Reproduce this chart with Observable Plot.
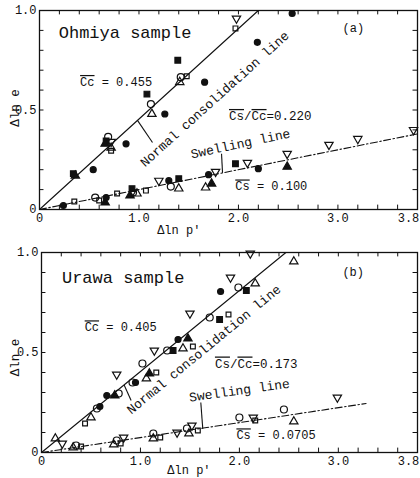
<!DOCTYPE html>
<html><head><meta charset="utf-8">
<script src="https://cdn.jsdelivr.net/npm/d3@7"></script>
<script src="https://cdn.jsdelivr.net/npm/@observablehq/plot@0.6"></script>
<style>
body{margin:0;background:#fff;}
#chart{width:420px;height:478px;overflow:hidden;}
svg{display:block;}
</style></head><body><div id="chart"></div>
<script>
// ---- tick labels ----
const xTickValues = [0, 1, 2, 3];
const xTickLabels = ["0", "1.0", "2.0", "3.0"];
const xEndValue = [3.8];
const xEndLabel = ["3.8"];
const yTickValues = [0, 0.5, 1];
const yTickLabels = ["0", "0.5", "1.0"];

// ---- (a) Ohmiya sample : [Δln p', Δln e] ----
const ohmiyaFilledCircle = [[0.54,0.20],[0.87,0.33],[1.26,0.48],[1.66,0.64],[2.19,0.84],[2.54,0.985],
  [0.24,0.02],[0.67,0.06],[1.30,0.145],[1.70,0.175],[2.20,0.205]];
const ohmiyaOpenCircle = [[0.69,0.365],[1.12,0.53],[1.42,0.665],[0.56,0.06],[0.94,0.085],[1.32,0.115]];
const ohmiyaFilledSquare = [[0.34,0.18],[0.67,0.345],[1.08,0.58],[1.39,0.75],[0.93,0.105],[1.40,0.155],[1.97,0.23]];
const ohmiyaOpenSquare = [[0.72,0.295],[1.48,0.67],[1.97,0.91],[0.35,0.04],[0.60,0.045],[0.78,0.08],[1.07,0.095]];
const ohmiyaFilledTriangle = [[0.36,0.17],[0.66,0.33],[0.66,0.035],[0.91,0.07],[1.73,0.13],[2.49,0.215]];
const ohmiyaOpenTriangle = [[0.72,0.31],[1.13,0.48],[1.41,0.64],[0.98,0.08],[1.40,0.105],[1.67,0.11]];
const ohmiyaInvTriangle = [[0.72,0.34],[1.98,0.96],[1.20,0.145],[1.77,0.19],[2.09,0.235],[2.49,0.28],[2.91,0.325],[3.20,0.355],[3.76,0.40]];
const ohmiyaNCL = [[0,0],[2.2,1.0]];
const ohmiyaSwell = [[0,0],[3.8,0.38]];

// ---- (b) Urawa sample ----
const urawaFilledCircle = [[0.59,0.23],[0.66,0.285],[0.95,0.35],[1.38,0.565],[1.81,0.805]];
const urawaOpenCircle = [[0.56,0.22],[0.78,0.295],[0.92,0.35],[1.02,0.445],[1.27,0.51],[1.70,0.675],[1.99,0.825],
  [0.35,0.035],[0.76,0.06],[1.13,0.095],[1.47,0.12],[2.00,0.175],[2.45,0.215]];
const urawaFilledSquare = [[1.33,0.51],[1.80,0.665],[2.07,0.81]];
const urawaOpenSquare = [[0.44,0.145],[1.16,0.40],[1.53,0.53],[1.89,0.69],[0.40,0.03],[0.80,0.045],[1.20,0.075],[1.58,0.11],[2.16,0.16]];
const urawaFilledTriangle = [[0.74,0.285],[1.09,0.395],[1.48,0.57]];
const urawaOpenTriangle = [[0.14,0.07],[0.50,0.175],[1.06,0.37],[1.43,0.52],[2.16,0.845],[2.55,0.955],
  [0.32,0.025],[0.73,0.04],[1.13,0.07],[1.49,0.095],[2.55,0.155]];
const urawaInvTriangle = [[0.76,0.39],[1.14,0.51],[1.50,0.695],[1.91,0.875],[2.11,0.995],
  [0.21,0.045],[0.83,0.075],[1.37,0.10],[1.52,0.135],[2.14,0.175],[2.99,0.275]];
const urawaNCL = [[0,0],[2.47,1.0]];
const urawaSwell = [[0,0],[3.28,0.245]];

// ---- rendering ----
const ink = "#111";
const FONT = "'Liberation Mono', 'DejaVu Sans Mono', monospace";
const invTriangle = {
  draw(ctx, size) {
    const y = Math.sqrt(size / (Math.sqrt(3) * 3));
    ctx.moveTo(0, y * 2);
    ctx.lineTo(-Math.sqrt(3) * y, -y);
    ctx.lineTo(Math.sqrt(3) * y, -y);
    ctx.closePath();
  }
};
const xMinor = d3.range(0, 3.801, 0.2);
const yMinor = d3.range(0, 1.001, 0.1);
const X = d => d[0], Y = d => d[1];

function panel(cfg) {
  const s = cfg.series;
  const dots = [
    [s.openSquare, "square", "none", 2.7],
    [s.openTriangle, "triangle", "none", 3.1],
    [s.invTriangle, invTriangle, "none", 3.1],
    [s.openCircle, "circle", "none", 3.5],
    [s.filledSquare, "square", ink, 3.2],
    [s.filledTriangle, "triangle", ink, 3.1],
    [s.filledCircle, "circle", ink, 3.0]
  ].map(([data, symbol, fill, r]) => Plot.dot(data, {x: X, y: Y, symbol, r, fill: fill === "none" ? "white" : fill,
      fillOpacity: fill === "none" ? 0 : 1, stroke: ink, strokeWidth: 1.2}));
  const svg = Plot.plot({
    width: 420, height: cfg.height,
    marginLeft: cfg.ml, marginRight: 3, marginTop: cfg.mt, marginBottom: cfg.mb,
    style: {fontFamily: FONT, fontSize: "12px", color: ink, background: "white", overflow: "visible"},
    x: {domain: [0, 3.8]},
    y: {domain: [0, 1]},
    marks: [
      Plot.frame({stroke: ink, strokeWidth: 1.3}),
      Plot.ruleX(xMinor, {x: d => d, y1: 0, y2: 0.022, stroke: ink, strokeWidth: 1}),
      Plot.ruleX(xMinor, {x: d => d, y1: 0.978, y2: 1, stroke: ink, strokeWidth: 1}),
      Plot.ruleY(yMinor, {y: d => d, x1: 0, x2: 0.045, stroke: ink, strokeWidth: 1}),
      Plot.ruleY(yMinor, {y: d => d, x1: 3.755, x2: 3.8, stroke: ink, strokeWidth: 1}),
      Plot.axisX({ticks: xTickValues, tickSize: 0, tickPadding: 4, label: null,
        tickFormat: d => xTickLabels[xTickValues.indexOf(d)], fontSize: 12}),
      Plot.axisX({ticks: xEndValue, tickSize: 0, tickPadding: 4, label: null, dx: -9,
        tickFormat: d => xEndLabel[xEndValue.indexOf(d)], fontSize: 12}),
      Plot.axisY({ticks: yTickValues, tickSize: 0, tickPadding: 3, label: null,
        tickFormat: d => yTickLabels[yTickValues.indexOf(d)], fontSize: 12}),
      Plot.line(cfg.ncl, {x: X, y: Y, stroke: ink, strokeWidth: 1.1}),
      Plot.line(cfg.swell, {x: X, y: Y, stroke: ink, strokeWidth: 1.1, strokeDasharray: "7,2.5,1.5,2.5"}),
      Plot.link(cfg.leaders, {x1: "x1", y1: "y1", x2: "x2", y2: "y2", stroke: ink, strokeWidth: 1.1}),
      ...dots,
      ...cfg.texts.map(t => Plot.text([t], {x: "x", y: "y", text: "text", rotate: t.rotate || 0,
        fontSize: t.size || 12, fill: ink, textAnchor: "middle"}))
    ]
  });
  // overline markup {..}
  d3.select(svg).selectAll("text").each(function () {
    const t = this.textContent;
    if (!t.includes("{")) return;
    const el = d3.select(this);
    el.text("");
    t.split(/(\{[^}]*\})/).filter(p => p.length).forEach(p => {
      const ts = el.append("tspan");
      if (p.startsWith("{")) ts.text(p.slice(1, -1)).style("text-decoration", "overline");
      else ts.text(p);
    });
  });
  return svg;
}

const chart = document.getElementById("chart");
chart.appendChild(panel({
  height: 240, ml: 39, mt: 10, mb: 31,
  series: {filledCircle: ohmiyaFilledCircle, openCircle: ohmiyaOpenCircle, filledSquare: ohmiyaFilledSquare,
    openSquare: ohmiyaOpenSquare, filledTriangle: ohmiyaFilledTriangle, openTriangle: ohmiyaOpenTriangle,
    invTriangle: ohmiyaInvTriangle},
  ncl: ohmiyaNCL, swell: ohmiyaSwell,
  leaders: [{x1: 0.985, y1: 0.448, x2: 1.136, y2: 0.337}, {x1: 1.84, y1: 0.184, x2: 1.83, y2: 0.28}],
  texts: [
    {x: 0.86, y: 0.89, text: "Ohmiya sample", size: 17},
    {x: 3.155, y: 0.91, text: "(a)", size: 12},
    {x: 0.77, y: 0.64, text: "{Cc} = 0.455", size: 12},
    {x: 1.76, y: 0.555, text: "Normal consolidation line", size: 13, rotate: -42},
    {x: 2.32, y: 0.47, text: "{Cs}/{Cc}=0.220", size: 12.5},
    {x: 2.02, y: 0.33, text: "Swelling line", size: 13, rotate: -12},
    {x: 2.33, y: 0.115, text: "{Cs} = 0.100", size: 12},
    {x: -0.25, y: 0.51, text: "Δln e", size: 12.5, rotate: -90},
    {x: 1.4, y: -0.105, text: "Δln p'", size: 12}
  ]
}));
chart.appendChild(panel({
  height: 238, ml: 41, mt: 12, mb: 26,
  series: {filledCircle: urawaFilledCircle, openCircle: urawaOpenCircle, filledSquare: urawaFilledSquare,
    openSquare: urawaOpenSquare, filledTriangle: urawaFilledTriangle, openTriangle: urawaOpenTriangle,
    invTriangle: urawaInvTriangle},
  ncl: urawaNCL, swell: urawaSwell,
  leaders: [{x1: 0.835, y1: 0.338, x2: 0.906, y2: 0.26}, {x1: 1.63, y1: 0.118, x2: 1.61, y2: 0.25}],
  texts: [
    {x: 0.825, y: 0.875, text: "Urawa sample", size: 17},
    {x: 3.15, y: 0.90, text: "(b)", size: 12},
    {x: 0.80, y: 0.625, text: "{Cc} = 0.405", size: 12},
    {x: 1.64, y: 0.515, text: "Normal consolidation line", size: 13, rotate: -39.5},
    {x: 2.17, y: 0.445, text: "{Cs}/{Cc}=0.173", size: 12.5},
    {x: 2.0, y: 0.31, text: "Swelling line", size: 13, rotate: -8},
    {x: 2.37, y: 0.085, text: "{Cs} = 0.0705", size: 12},
    {x: -0.27, y: 0.475, text: "Δln e", size: 12.5, rotate: -90},
    {x: 1.49, y: -0.09, text: "Δln p'", size: 12}
  ]
}));
</script></body></html>
